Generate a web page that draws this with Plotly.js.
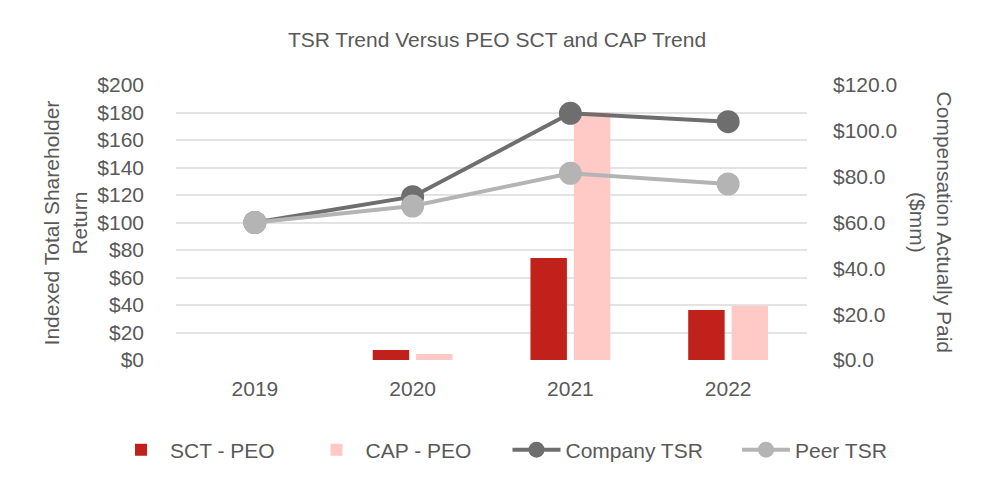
<!DOCTYPE html>
<html>
<head>
<meta charset="utf-8">
<script src="https://cdn.plot.ly/plotly-3.0.1.min.js"></script>
<style>html,body{margin:0;padding:0;background:#fff;}#chart{width:1000px;height:500px;}</style>
</head>
<body>
<div id="chart"></div>
<script>
const years = ["2019", "2020", "2021", "2022"];
const sctPeo = [0, 4.4, 44.5, 21.8];
const capPeo = [0, 2.6, 108.2, 23.7];
const companyTsr = [100, 118.8, 179.4, 173.3];
const peerTsr = [100, 112, 135.8, 128];
const tsrTicks = [0, 20, 40, 60, 80, 100, 120, 140, 160, 180, 200];
const tsrTickLabels = tsrTicks.map(v => "$" + v);
const compTicks = [0, 20, 40, 60, 80, 100, 120];
const compTickLabels = compTicks.map(v => "$" + v.toFixed(1));

const txt = "#595959";
const font = {family: "Liberation Sans, Arial, sans-serif", size: 21, color: txt};
const tickFont = {family: "Liberation Sans, Arial, sans-serif", size: 21, color: txt};

const traces = [
  {type: "bar", name: "SCT - PEO", x: years, y: sctPeo, yaxis: "y", legend: "legend",
   marker: {color: "#C0211A"}, hoverinfo: "skip"},
  {type: "bar", name: "CAP - PEO", x: years, y: capPeo, yaxis: "y", legend: "legend2",
   marker: {color: "#FFC9C6"}, hoverinfo: "skip"},
  {type: "scatter", mode: "lines+markers", name: "Company TSR", x: years, y: companyTsr, yaxis: "y2", legend: "legend3",
   line: {color: "#6e6e6e", width: 4}, marker: {color: "#6e6e6e", size: 23}},
  {type: "scatter", mode: "lines+markers", name: "Peer TSR", x: years, y: peerTsr, yaxis: "y2", legend: "legend4",
   line: {color: "#b4b4b4", width: 4}, marker: {color: "#b4b4b4", size: 23}}
];

const legendBase = {orientation: "h", xref: "container", yref: "container", xanchor: "left",
                    y: 0.1, yanchor: "middle", font: font, traceorder: "normal", itemwidth: 48};

const layout = {
  width: 1000, height: 500,
  margin: {l: 176, r: 193, t: 85, b: 140},
  paper_bgcolor: "#fff", plot_bgcolor: "rgba(0,0,0,0)",
  font: font,
  title: {text: "TSR Trend Versus PEO SCT and CAP Trend", font: font,
          x: 0.497, xanchor: "center", y: 0.92, yanchor: "middle", xref: "container", yref: "container"},
  barmode: "group", bargap: 0.45, bargroupgap: 0.16,
  xaxis: {type: "category", showgrid: false, zeroline: false, showline: false, ticks: "",
          tickfont: tickFont, ticklabelstandoff: 14, fixedrange: true},
  yaxis: {side: "right", range: [0, 120], tickvals: compTicks, ticktext: compTickLabels,
          showgrid: false, zeroline: false, showline: false, ticks: "",
          tickfont: tickFont, ticklabelstandoff: 25},
  yaxis2: {side: "left", overlaying: "y", range: [0, 200], tickvals: tsrTicks, ticktext: tsrTickLabels,
           showgrid: true, gridcolor: "#e3e3e3", gridwidth: 2, zeroline: false, showline: false, ticks: "",
           tickfont: tickFont, ticklabelstandoff: 31},
  showlegend: true,
  legend: Object.assign({}, legendBase, {x: 0.112}),
  legend2: Object.assign({}, legendBase, {x: 0.3075}),
  legend3: Object.assign({}, legendBase, {x: 0.5075}),
  legend4: Object.assign({}, legendBase, {x: 0.737}),
  annotations: [
    {text: "Indexed Total Shareholder<br>Return", textangle: -90, xref: "paper", yref: "paper",
     x: -0.176, y: 0.5, xanchor: "center", yanchor: "middle", showarrow: false, font: font},
    {text: "Compensation Actually Paid<br>($mm)", textangle: 90, xref: "paper", yref: "paper",
     x: 1.198, y: 0.5, xanchor: "center", yanchor: "middle", showarrow: false, font: font}
  ]
};

Plotly.newPlot("chart", traces, layout, {displayModeBar: false, staticPlot: true});
</script>
</body>
</html>
